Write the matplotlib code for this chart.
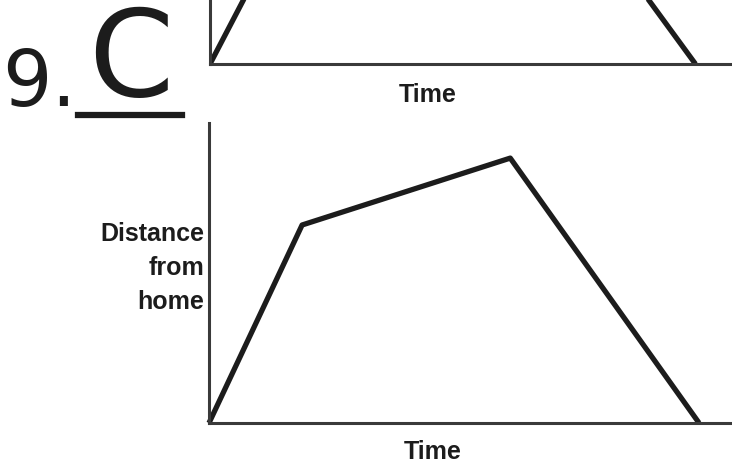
import matplotlib
matplotlib.use("Agg")
import matplotlib.pyplot as plt
from matplotlib.lines import Line2D

# Data (arbitrary units)
top_time = [0, 1.5, 7.2, 9.3]
top_distance = [0, 5, 5, 0]

time = [0, 1.78, 5.76, 9.37]
distance = [0, 6.6, 8.83, 0]

x_label = "Time"
y_label = "Distance\nfrom\nhome"
answer_number = "9."
answer_letter = "C"

W, H = 732, 463
fig = plt.figure(figsize=(W / 100, H / 100), dpi=100)
fig.patch.set_facecolor("white")

ink = "#1c1c1c"
axis_ink = "#3a3a3a"
font = ["Liberation Sans", "DejaVu Sans"]


def px_rect(left, top, right, bottom):
    return [left / W, 1 - bottom / H, (right - left) / W, (bottom - top) / H]


def style(ax):
    for s in ["top", "right"]:
        ax.spines[s].set_visible(False)
    for s in ["left", "bottom"]:
        ax.spines[s].set_color(axis_ink)
        ax.spines[s].set_linewidth(2.2)
    ax.set_xticks([])
    ax.set_yticks([])
    ax.set_xlim(0, 10)
    ax.set_ylim(0, 10)
    ax.patch.set_alpha(0)


# Top (partially visible) graph
ax_top = fig.add_axes(px_rect(210, -236, 732, 64))
style(ax_top)
ax_top.plot(top_time, top_distance, color=ink, lw=3.8, solid_joinstyle="miter",
            solid_capstyle="butt", clip_on=True)
fig.text(428 / W, 1 - 95 / H, x_label, ha="center", va="center",
         fontsize=18, fontweight="bold", color=ink, family=font)

# Bottom graph
ax = fig.add_axes(px_rect(209, 123, 732, 423))
style(ax)
ax.plot(time, distance, color=ink, lw=3.8, solid_joinstyle="round",
        solid_capstyle="butt", clip_on=False)
fig.text(433 / W, 1 - 452 / H, x_label, ha="center", va="center",
         fontsize=18, fontweight="bold", color=ink, family=font)
fig.text(204 / W, 1 - 268 / H, y_label, ha="right", va="center",
         multialignment="right", linespacing=1.55,
         fontsize=18, fontweight="bold", color=ink, family=font)

# Handwritten answer
fig.text(2 / W, 1 - 84 / H, answer_number, ha="left", va="center",
         fontsize=56, color=ink, family=["DejaVu Sans"])
fig.text(131 / W, 1 - 62 / H, answer_letter, ha="center", va="center",
         fontsize=88, color=ink, family=["DejaVu Sans"])
fig.add_artist(Line2D([78 / W, 182 / W], [1 - 115 / H, 1 - 115 / H],
                      color=ink, lw=4.5, transform=fig.transFigure))

fig.savefig("out.png", dpi=100, facecolor="white")
